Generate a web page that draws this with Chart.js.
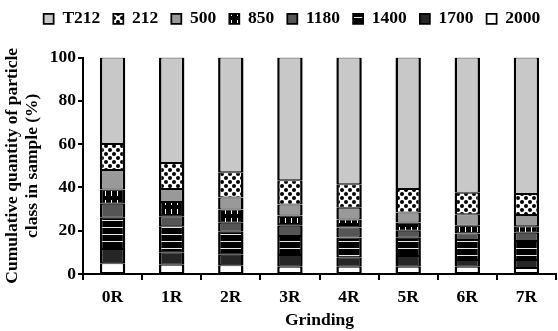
<!DOCTYPE html>
<html>
<head>
<meta charset="utf-8">
<script src="https://cdn.jsdelivr.net/npm/chart.js@4.4.0/dist/chart.umd.min.js"></script>
<style>
  html, body { margin: 0; padding: 0; background: #fff; }
  #wrap { width: 558px; height: 331px; }
</style>
</head>
<body>
<div id="wrap"><canvas id="chart" width="558" height="331"></canvas></div>
<script>
// grinding passes
const grinding = ['0R', '1R', '2R', '3R', '4R', '5R', '6R', '7R'];

// share of each particle class per sample (%), bottom of the stack first
const cls2000 = [5.0, 4.3, 4.0, 3.4, 3.4, 3.4, 3.4, 2.8];
const cls1700 = [6.5, 5.8, 4.9, 5.4, 4.3, 4.9, 3.1, 3.7];
const cls1400 = [14.5, 12.0, 10.6, 8.7, 9.2, 8.4, 9.2, 8.7];
const cls1180 = [6.5, 4.6, 4.2, 4.8, 4.6, 3.3, 3.0, 3.8];
const cls850 = [6.5, 6.6, 6.1, 4.7, 3.7, 3.8, 3.6, 3.1];
const cls500 = [9.0, 6.0, 5.5, 5.1, 5.4, 4.6, 5.3, 5.1];
const cls212 = [12.0, 12.0, 11.7, 11.2, 10.9, 10.9, 9.9, 9.7];
const clsT212 = [40.0, 48.7, 53.0, 56.7, 58.5, 60.7, 62.5, 63.1];

const yTicks = [0, 20, 40, 60, 80, 100];

const serif = 'Liberation Serif';
const textFont = { family: serif, size: 17.5, weight: 'bold' };

function pattern(w, h, draw) {
  const c = document.createElement('canvas');
  c.width = w; c.height = h;
  const g = c.getContext('2d');
  draw(g);
  return document.getElementById('chart').getContext('2d').createPattern(c, 'repeat');
}

const hLines = pattern(4, 7, g => {
  g.fillStyle = '#000'; g.fillRect(0, 0, 4, 7);
  g.fillStyle = '#e8e8e8'; g.fillRect(0, 3, 4, 1);
});
const vLines = pattern(6, 9, g => {
  g.fillStyle = '#000'; g.fillRect(0, 0, 6, 9);
  g.fillStyle = '#fff'; g.fillRect(3, 2, 1, 5);
});
const dots = pattern(8, 8, g => {
  g.fillStyle = '#fff'; g.fillRect(0, 0, 8, 8);
  g.fillStyle = '#000';
  g.beginPath(); g.arc(2, 2, 2, 0, Math.PI * 2); g.fill();
  g.beginPath(); g.arc(6, 6, 2, 0, Math.PI * 2); g.fill();
});

const series = [
  { label: '2000', data: cls2000, backgroundColor: '#ffffff' },
  { label: '1700', data: cls1700, backgroundColor: '#262626' },
  { label: '1400', data: cls1400, backgroundColor: hLines },
  { label: '1180', data: cls1180, backgroundColor: '#555555' },
  { label: '850', data: cls850, backgroundColor: vLines },
  { label: '500', data: cls500, backgroundColor: '#999999' },
  { label: '212', data: cls212, backgroundColor: dots },
  { label: 'T212', data: clsT212, backgroundColor: '#c8c8c8' },
];

// extra room between the legend and the plot, legend nudged right
const legendGap = {
  id: 'legendGap',
  beforeInit(chart) {
    const fit = chart.legend.fit;
    chart.legend.fit = function () {
      fit.call(this);
      this.height += 20;
    };
  },
  afterLayout(chart) {
    chart.legend.left += 14;
    chart.legend.right += 14;
  },
};

new Chart(document.getElementById('chart'), {
  type: 'bar',
  data: {
    labels: grinding,
    datasets: series.map(s => ({
      ...s,
      borderColor: '#000',
      borderWidth: { top: 1, bottom: 1, left: 2.5, right: 2.5 },
      borderSkipped: false,
      barPercentage: 0.43,
      categoryPercentage: 1,
    })),
  },
  plugins: [legendGap],
  options: {
    responsive: false,
    animation: false,
    layout: { padding: { left: 0, right: 2, top: -3, bottom: 0 } },
    plugins: {
      tooltip: { enabled: false },
      legend: {
        position: 'top',
        reverse: true,
        labels: {
          color: '#000',
          font: textFont,
          boxWidth: 10,
          boxHeight: 10,
          padding: 13,
        },
      },
    },
    scales: {
      x: {
        stacked: true,
        border: { color: '#000', width: 2 },
        grid: { offset: true, drawOnChartArea: false, color: '#000', lineWidth: 2, tickLength: 6 },
        ticks: { color: '#000', font: textFont, padding: 7 },
        title: { display: true, text: 'Grinding', color: '#000', font: textFont, padding: { top: 0, bottom: 0 } },
        afterFit: s => { s.height = 57; },
      },
      y: {
        stacked: true,
        min: 0,
        max: 100,
        afterBuildTicks: s => { s.ticks = yTicks.map(v => ({ value: v })); },
        border: { color: '#000', width: 2 },
        grid: { drawOnChartArea: false, color: '#000', lineWidth: 2, tickLength: 5 },
        ticks: { color: '#000', font: textFont, padding: 2 },
        title: {
          display: true,
          text: ['Cumulative quantity of particle', 'class in sample (%)'],
          color: '#000',
          font: { ...textFont, lineHeight: 1.15 },
          padding: { top: 2, bottom: 2 },
        },
        afterFit: s => { s.width = 83; },
      },
    },
  },
});
</script>
</body>
</html>
